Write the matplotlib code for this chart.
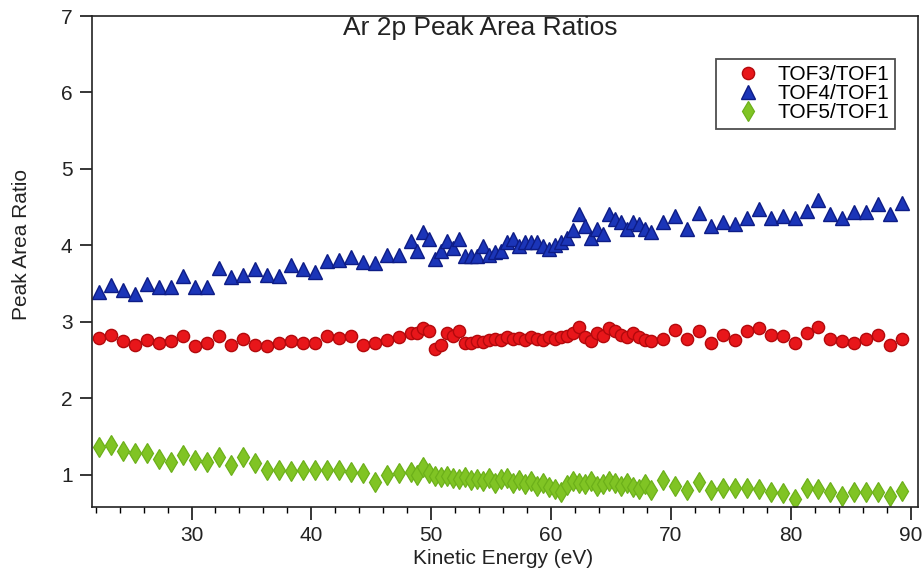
import matplotlib
matplotlib.use("Agg")
import matplotlib.pyplot as plt
from matplotlib.ticker import MultipleLocator

plt.rcParams['font.family'] = ['Liberation Sans', 'DejaVu Sans']

# Kinetic energy (eV)
energy = [22.3, 23.3, 24.3, 25.3, 26.3, 27.3, 28.3, 29.3, 30.3, 31.3,
          32.3, 33.3, 34.3, 35.3, 36.3, 37.3, 38.3, 39.3, 40.3, 41.3,
          42.3, 43.3, 44.3, 45.3, 46.3, 47.3, 48.3,
          48.8, 49.3, 49.8, 50.3, 50.8, 51.3, 51.8, 52.3, 52.8, 53.3,
          53.8, 54.3, 54.8, 55.3, 55.8, 56.3, 56.8, 57.3, 57.8, 58.3,
          58.8, 59.3, 59.8, 60.3, 60.8, 61.3, 61.8, 62.3, 62.8, 63.3,
          63.8, 64.3, 64.8, 65.3, 65.8, 66.3, 66.8, 67.3, 67.8, 68.3,
          69.3, 70.3, 71.3, 72.3, 73.3, 74.3, 75.3, 76.3, 77.3, 78.3,
          79.3, 80.3, 81.3, 82.3, 83.3, 84.3, 85.3, 86.3, 87.3, 88.3, 89.3]

tof3 = [2.79, 2.83, 2.75, 2.70, 2.76, 2.72, 2.75, 2.81, 2.68, 2.73,
        2.81, 2.70, 2.78, 2.70, 2.69, 2.73, 2.75, 2.73, 2.72, 2.82,
        2.79, 2.82, 2.70, 2.73, 2.76, 2.80, 2.86,
        2.85, 2.92, 2.88, 2.65, 2.70, 2.85, 2.82, 2.88, 2.72, 2.72,
        2.75, 2.74, 2.76, 2.78, 2.77, 2.80, 2.78, 2.79, 2.77, 2.80,
        2.78, 2.76, 2.80, 2.78, 2.80, 2.82, 2.85, 2.93, 2.80, 2.75,
        2.85, 2.82, 2.92, 2.88, 2.83, 2.80, 2.85, 2.80, 2.77, 2.75,
        2.78, 2.90, 2.78, 2.88, 2.73, 2.83, 2.76, 2.88, 2.92, 2.83,
        2.82, 2.73, 2.86, 2.94, 2.78, 2.75, 2.73, 2.78, 2.83, 2.70, 2.78]

tof4 = [3.39, 3.48, 3.42, 3.36, 3.50, 3.46, 3.46, 3.60, 3.46, 3.46,
        3.71, 3.59, 3.62, 3.69, 3.61, 3.60, 3.74, 3.69, 3.65, 3.80,
        3.81, 3.85, 3.78, 3.77, 3.88, 3.88, 4.06,
        3.93, 4.17, 4.08, 3.82, 3.93, 4.06, 3.97, 4.08, 3.86, 3.86,
        3.86, 3.99, 3.88, 3.91, 3.93, 4.04, 4.08, 3.99, 4.04, 4.04,
        4.04, 3.99, 3.95, 4.01, 4.05, 4.10, 4.20, 4.41, 4.25, 4.10,
        4.21, 4.15, 4.41, 4.34, 4.30, 4.21, 4.30, 4.28, 4.22, 4.17,
        4.30, 4.39, 4.21, 4.43, 4.25, 4.31, 4.28, 4.36, 4.48, 4.36,
        4.38, 4.36, 4.45, 4.60, 4.41, 4.36, 4.44, 4.44, 4.54, 4.41, 4.55]

tof5 = [1.37, 1.39, 1.31, 1.28, 1.28, 1.21, 1.17, 1.26, 1.20, 1.17,
        1.24, 1.13, 1.24, 1.15, 1.07, 1.06, 1.05, 1.07, 1.06, 1.06,
        1.07, 1.04, 1.03, 0.91, 1.00, 1.02, 1.04,
        1.00, 1.10, 1.03, 0.98, 0.97, 0.98, 0.96, 0.95, 0.97, 0.93,
        0.95, 0.92, 0.96, 0.90, 0.94, 0.96, 0.90, 0.93, 0.88, 0.92,
        0.86, 0.90, 0.84, 0.82, 0.78, 0.87, 0.92, 0.90, 0.88, 0.92,
        0.85, 0.88, 0.92, 0.90, 0.86, 0.90, 0.84, 0.82, 0.88, 0.80,
        0.93, 0.85, 0.80, 0.91, 0.80, 0.83, 0.83, 0.83, 0.81, 0.78,
        0.76, 0.68, 0.83, 0.81, 0.77, 0.72, 0.77, 0.78, 0.77, 0.72, 0.79]

labels = ["TOF3/TOF1", "TOF4/TOF1", "TOF5/TOF1"]
x_ticks = [30, 40, 50, 60, 70, 80, 90]
y_ticks = [1, 2, 3, 4, 5, 6, 7]

fig = plt.figure(figsize=(9.23, 5.75), dpi=100)
ax = fig.add_axes([92/923, 1 - 507/575, (918 - 92)/923, (507 - 16)/575])

ax.plot(energy, tof3, linestyle='none', marker='o', ms=8.8,
        mfc='#e8161a', mec='#b3090c', mew=1.0, label=labels[0])
ax.plot(energy, tof4, linestyle='none', marker='^', ms=9.5,
        mfc='#1b35b8', mec='#0d1c86', mew=1.0, label=labels[1])
ax.plot(energy, tof5, linestyle='none', marker='d', ms=10.5,
        mfc='#80c424', mec='#6cb01a', mew=0.9, label=labels[2])

ax.set_xlim(21.7, 90.6)
ax.set_ylim(0.58, 7.0)
ax.set_xticks(x_ticks)
ax.set_yticks(y_ticks)
ax.xaxis.set_minor_locator(MultipleLocator(2))

ax.tick_params(axis='both', which='major', direction='out', length=9,
               width=1.1, labelsize=15, colors='black', labelcolor='#222222')
ax.tick_params(axis='x', which='major', pad=5)
ax.tick_params(axis='y', which='major', pad=5, length=9)
ax.tick_params(axis='x', which='minor', direction='out', length=4.5, width=1.0)

for s in ax.spines.values():
    s.set_linewidth(1.2)
    s.set_color('#222222')

ax.set_xlabel("Kinetic Energy (eV)", fontsize=15, color='#222222')
ax.set_ylabel("Peak Area Ratio", fontsize=15, color='#222222')
ax.xaxis.set_label_coords((503 - 92)/826, -(549 - 507)/491)
ax.yaxis.set_label_coords(-(92 - 31)/826, 1 - (245 - 16)/491)

ax.text((480 - 92)/826, 1 - (28 - 16)/491, "Ar 2p Peak Area Ratios",
        transform=ax.transAxes, ha='center', va='center', fontsize=19,
        color='#222222')

leg = ax.legend(loc='upper right', bbox_to_anchor=((895 - 92)/826, 1 - (59 - 16)/491),
                borderaxespad=0, fontsize=15, frameon=True, fancybox=False,
                handlelength=2.5, handletextpad=0.15, labelspacing=0.0,
                borderpad=0.3, numpoints=1)
leg.get_frame().set_edgecolor('#222222')
leg.get_frame().set_linewidth(1.3)

fig.savefig("out.png", dpi=100)
